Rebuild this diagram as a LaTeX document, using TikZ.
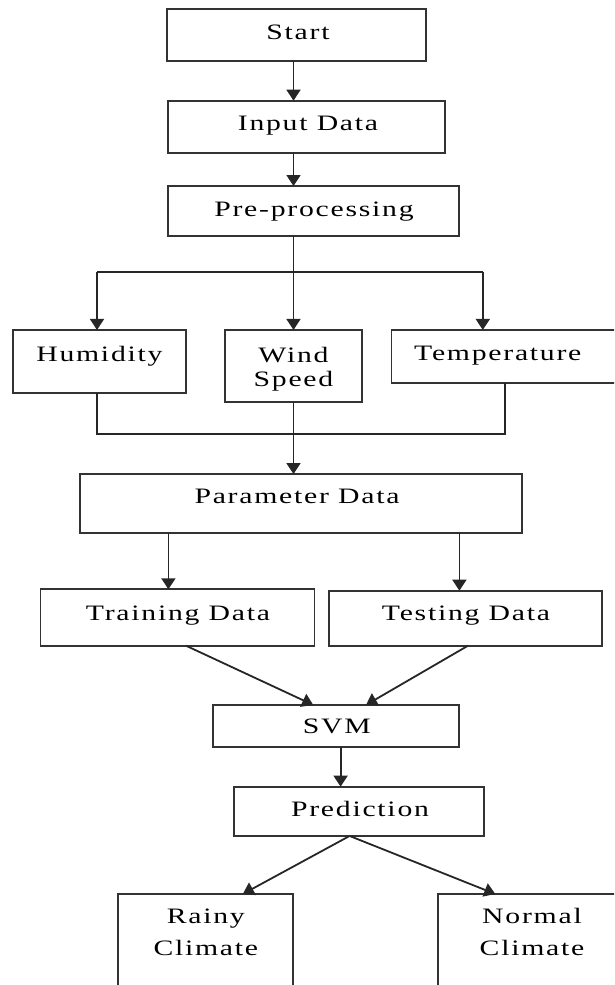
\documentclass[tikz,border=0pt]{standalone}
\usepackage{fontspec}
\newfontfamily\wide[FakeStretch=1.35,LetterSpace=8]{Liberation Serif}
\usetikzlibrary{arrows.meta,calc}
\begin{document}
\begin{tikzpicture}[x=1pt,y=-1pt,
 box/.style={draw=black!80,line width=1.8pt,inner sep=0pt,outer sep=0pt,rectangle},
 txt/.style={font=\wide\fontsize{22}{26}\selectfont,anchor=base,inner sep=0pt,text=black},
 conn/.style={draw=black!85,line width=1.8pt},
 arr/.style={conn,-{Triangle[length=11pt,width=14pt]}}]
\useasboundingbox (0,0) rectangle (614,985);
\clip (0,0) rectangle (614,985);

% boxes
\node[box,minimum width=259pt,minimum height=51.4pt] (start) at (296.5,35) {};
\node[box,minimum width=277.4pt,minimum height=52pt] (input) at (306.3,126.7) {};
\node[box,minimum width=291.4pt,minimum height=50pt] (pre) at (313.3,211) {};
\node[box,minimum width=173pt,minimum height=62.7pt] (hum) at (99.5,361.3) {};
\node[box,minimum width=137pt,minimum height=71.7pt] (wind) at (293.5,365.8) {};
\node[box,minimum width=228.5pt,minimum height=52.7pt] (temp) at (505.8,356.3) {};
\node[box,minimum width=441.7pt,minimum height=59.3pt] (param) at (301.2,503.7) {};
\node[box,minimum width=274pt,minimum height=56.4pt] (train) at (177.4,617.5) {};
\node[box,minimum width=272.8pt,minimum height=55pt] (test) at (465.4,618.2) {};
\node[box,minimum width=246.7pt,minimum height=41.7pt] (svm) at (336,725.8) {};
\node[box,minimum width=249.6pt,minimum height=49.3pt] (pred) at (358.8,811.3) {};
\node[box,minimum width=175pt,minimum height=106pt] (rainy) at (205.8,947) {};
\node[box,minimum width=191.7pt,minimum height=106pt] (normal) at (534,947) {};

% texts
\node[txt] (tstart) at (298,39.3) {Start};
\node[txt] (tinput) at (308,130) {Input Data};
\node[txt] (tpre) at (314,216.7) {Pre-processing};
\node[txt] (thum) at (99.4,361.3) {Humidity};
\node[txt] (twind1) at (293.5,362) {Wind};
\node[txt] (twind2) at (293.5,386.7) {Speed};
\node[txt] (ttemp) at (497.8,360.7) {Temperature};
\node[txt] (tparam) at (297,503.3) {Parameter Data};
\node[txt] (ttrain) at (178,620) {Training Data};
\node[txt] (ttest) at (466,620.7) {Testing Data};
\node[txt] (tsvm) at (336.8,733.3) {SVM};
\node[txt] (tpred) at (360,816) {Prediction};
\node[txt] (train1) at (205.8,923.3) {Rainy};
\node[txt] (train2) at (205.8,955) {Climate};
\node[txt] (tnorm1) at (532,923.3) {Normal};
\node[txt] (tnorm2) at (532,955) {Climate};

% coordinates
\coordinate (bL) at (97,271.7);
\coordinate (bR) at (482.8,271.7);
\coordinate (mrg) at (293.5,434.3);

% connectors
\draw[arr] (start.south -| wind.center) -- (input.north -| wind.center);
\draw[arr] (input.south -| wind.center) -- (pre.north -| wind.center);
\draw[arr] (pre.south -| wind.center) -- (wind.north);
\draw[conn] (bL) -- (bR);
\draw[arr] (bL) -- (bL |- hum.north);
\draw[arr] (bR) -- (bR |- temp.north);
\draw[conn] ([xshift=-2.5pt]hum.south) |- (mrg) -| ([xshift=-0.8pt]temp.south);
\draw[arr] (wind.south) -- (wind.south |- param.north);
\draw[arr] ([xshift=-9pt]param.south -| train.north) -- ([xshift=-9pt]train.north);
\draw[arr] ([xshift=-6pt]param.south -| test.north) -- ([xshift=-6pt]test.north);
\draw[arr] ([xshift=8.6pt]train.south) -- ([xshift=-22.8pt]svm.north);
\draw[arr] ([xshift=2.6pt]test.south) -- ([xshift=30pt]svm.north);
\draw[arr] ([xshift=4.6pt]svm.south) -- ([xshift=4.6pt]svm.south |- pred.north);
\draw[arr] ([xshift=-9.2pt]pred.south) -- ([xshift=37pt]rainy.north);
\draw[arr] ([xshift=-9.2pt]pred.south) -- ([xshift=-38.7pt]normal.north);
\end{tikzpicture}
\end{document}
